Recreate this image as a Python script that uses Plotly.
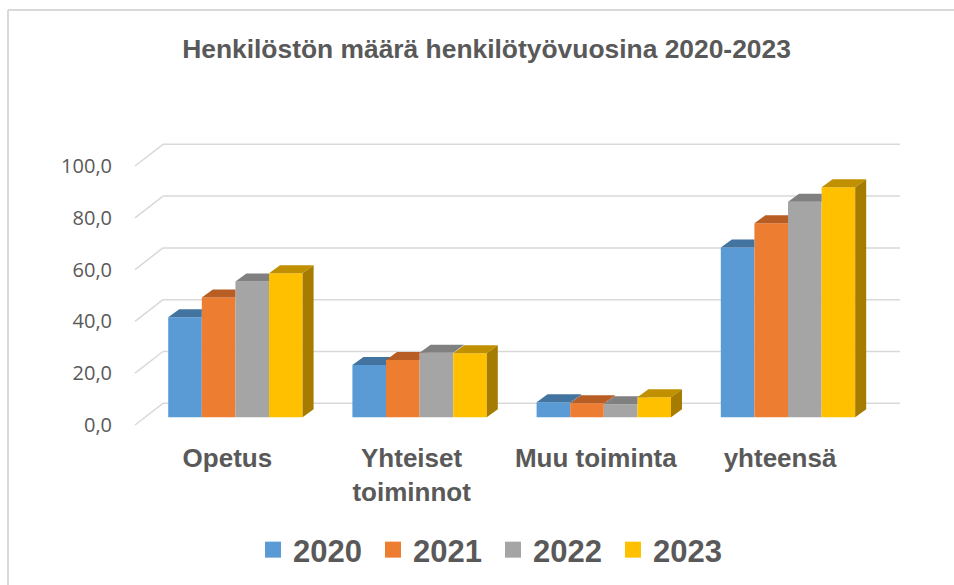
import plotly.graph_objects as go

# ---------------- data ----------------
categories = ["Opetus", "Yhteiset<br>toiminnot", "Muu toiminta", "yhteensä"]
years = ["2020", "2021", "2022", "2023"]
v2020 = [38.6, 20.2, 5.8, 65.6]
v2021 = [46.3, 22.1, 5.4, 74.9]
v2022 = [52.4, 24.9, 5.0, 83.2]
v2023 = [55.6, 24.7, 7.7, 88.8]
series = [v2020, v2021, v2022, v2023]
y_ticks = [0, 20, 40, 60, 80, 100]

# ---------------- style ----------------
colors = ["#5B9BD5", "#ED7D31", "#A5A5A5", "#FFC000"]
top_colors = ["#43739F", "#B85D24", "#808080", "#C09000"]
side_colors = ["#3B6690", "#A3511E", "#707070", "#A67C00"]
grid_color = "#D9D9D9"
text_color = "#595959"

W, H = 954, 585
L, R, T, B = 120, 910, 130, 440           # plot area in pixels
cat_px = 184.2                            # pixels per category
val_px = 2.59                             # pixels per value unit
cat0_px = 235.4                           # pixel of first category centre (bar plane)
zero_px = 417.3                           # pixel of value 0 (bar plane)

bar_w = 0.1824                            # bar width in category units

# depth offsets (pixels, +x right, +y down) relative to the bar front plane
bar_depth_px = (11.0, -8.0)
front_px = (-8.0, 7.7)
back_px = (20.0, -14.0)
back_end_px = 900.0


def du(px):
    return (px[0] / cat_px, -px[1] / val_px)


bdx, bdy = du(bar_depth_px)
fdx, fdy = du(front_px)
kdx, kdy = du(back_px)
back_end_u = (back_end_px - cat0_px) / cat_px
front_left_u = (135.0 - cat0_px) / cat_px

x_range = [(L - cat0_px) / cat_px, (R - cat0_px) / cat_px]
y_range = [(zero_px - B) / val_px, (zero_px - T) / val_px]

fig = go.Figure()

# front faces (bars)
for j, vals in enumerate(series):
    fig.add_trace(go.Bar(
        x=list(range(len(categories))), y=vals,
        width=bar_w, offset=(j - 2) * bar_w,
        marker=dict(color=colors[j], line=dict(width=0)),
        showlegend=False, hoverinfo="y", name=years[j]))

# top and side faces
for j, vals in enumerate(series):
    for i, v in enumerate(vals):
        xl = i + (j - 2) * bar_w
        xr = xl + bar_w
        nxt = series[j + 1][i] if j + 1 < len(series) else None
        if nxt is None or nxt <= v:
            px = [xl, xr, xr + bdx, xl + bdx, xl]
            py = [v, v, v + bdy, v + bdy, v]
        elif nxt >= v + bdy:
            px = [xl, xr, xr, xl + bdx, xl]
            py = [v, v, v + bdy, v + bdy, v]
        else:
            t = (nxt - v) / bdy
            px = [xl, xr, xr, xr + bdx * t, xr + bdx, xl + bdx, xl]
            py = [v, v, nxt, nxt, v + bdy, v + bdy, v]
        fig.add_trace(go.Scatter(x=px, y=py, mode="lines", fill="toself",
                                 fillcolor=top_colors[j], line=dict(width=0),
                                 hoverinfo="skip", showlegend=False))
        lo = 0 if nxt is None else nxt
        if lo < v:
            sx = [xr, xr + bdx, xr + bdx, xr, xr]
            sy = [lo, lo + bdy, v + bdy, v, lo]
            fig.add_trace(go.Scatter(x=sx, y=sy, mode="lines", fill="toself",
                                     fillcolor=side_colors[j], line=dict(width=0),
                                     hoverinfo="skip", showlegend=False))

# legend entries
for j, yr in enumerate(years):
    fig.add_trace(go.Scatter(x=[None], y=[None], mode="markers", name=yr,
                             marker=dict(symbol="square", size=16, color=colors[j]),
                             yaxis="y2", hoverinfo="skip"))

# back-wall gridlines and left-wall slants
shapes = []
for t in y_ticks:
    shapes.append(dict(type="line", xref="x", yref="y", layer="below",
                       x0=front_left_u, y0=t + fdy, x1=front_left_u + (kdx - fdx), y1=t + kdy,
                       line=dict(color=grid_color, width=1.5)))
    shapes.append(dict(type="line", xref="x", yref="y", layer="below",
                       x0=front_left_u + (kdx - fdx), y0=t + kdy, x1=back_end_u, y1=t + kdy,
                       line=dict(color=grid_color, width=1.5)))


def pxx(p):
    return (p - L) / (R - L)


def pxy(p):
    return (B - p) / (B - T)


# chart frame (left and top edges visible)
shapes.append(dict(type="line", xref="paper", yref="paper",
                   x0=pxx(8), y0=pxy(10), x1=pxx(8), y1=pxy(620),
                   line=dict(color=grid_color, width=2)))
shapes.append(dict(type="line", xref="paper", yref="paper",
                   x0=pxx(8), y0=pxy(10), x1=pxx(980), y1=pxy(10),
                   line=dict(color=grid_color, width=2)))

fig.update_layout(
    width=W, height=H,
    margin=dict(l=L, r=W - R, t=T, b=H - B, pad=0, autoexpand=False),
    paper_bgcolor="white", plot_bgcolor="white",
    separators=", ",
    barmode="overlay",
    shapes=shapes,
    title=dict(text="Henkilöstön määrä henkilötyövuosina 2020-2023",
               x=486.5 / W, xanchor="center", y=1 - 49 / H, yanchor="middle",
               font=dict(family="Liberation Sans", size=26.4, weight="bold",
                         color=text_color)),
    xaxis=dict(range=x_range, showgrid=False, zeroline=False, showline=False,
               automargin=False,
               tickmode="array",
               tickvals=[i + fdx for i in range(len(categories))],
               ticktext=categories, ticks="",
               tickfont=dict(family="Liberation Sans", size=26, weight="bold",
                             color=text_color)),
    yaxis=dict(range=y_range, visible=False, fixedrange=True, automargin=False),
    yaxis2=dict(range=[y_range[0] - fdy, y_range[1] - fdy], overlaying="y", side="left",
                showgrid=False, zeroline=False, showline=False, ticks="",
                automargin=False, ticklabelstandoff=7,
                tickmode="array", tickvals=y_ticks, tickformat=".1f",
                tickfont=dict(family="Open Sans", size=20, color=text_color)),
    legend=dict(orientation="h", xref="container", yref="container",
                x=253 / W, xanchor="left",
                y=1 - 550 / H, yanchor="middle", entrywidth=75,
                font=dict(family="Liberation Sans", size=31, weight="bold",
                          color=text_color),
                bgcolor="rgba(0,0,0,0)", itemclick=False),
    showlegend=True,
)

fig.write_html("out.html", config={"displayModeBar": False},
               post_script="document.body.style.margin='0';")
